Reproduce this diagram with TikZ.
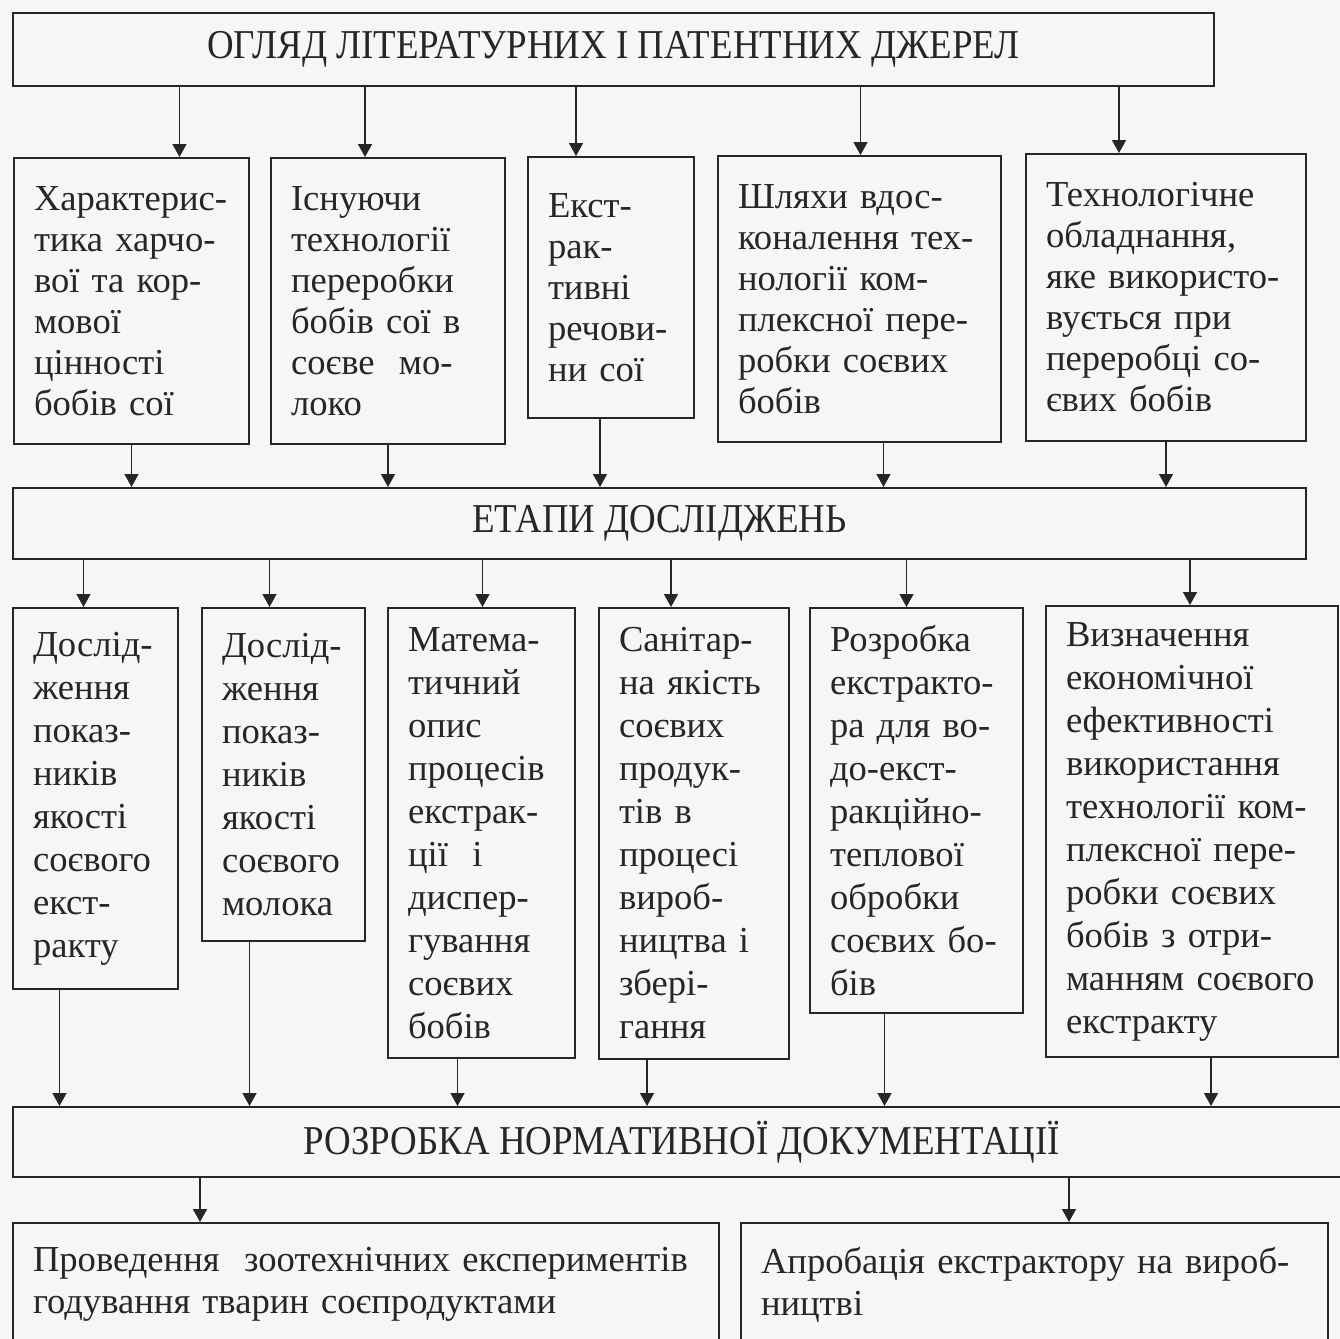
\documentclass[tikz,border=0pt]{standalone}
\usepackage{fontspec}
\setmainfont{Liberation Serif}
\newfontfamily\headfont[FakeStretch=0.9]{Liberation Serif}
\usetikzlibrary{positioning,arrows.meta}

\tikzset{
  headbox/.style={draw=black!85, line width=1pt, anchor=north west, inner sep=0pt,
    text=black!85, font=\headfont\fontsize{20.5}{24}\selectfont},
  stagebox/.style={draw=black!85, line width=1pt, anchor=north west, align=left,
    inner xsep=10pt, inner ysep=0pt, text=black!85, font=\fontsize{18.3}{#1}\selectfont},
  stagebox/.default=20.5,
  arr/.style={draw=black!85, line width=0.7pt, -{Triangle[length=6.5pt,width=7pt]}}
}

\begin{document}
\begin{tikzpicture}[x=0.5pt, y=-0.5pt]

% Page, in pixels of the scan (1340 x 1339)
\fill[gray!7] (0,0) rectangle (1340,1339);
\useasboundingbox (0,0) rectangle (1340,1339);

% Header: sources
\node[headbox, minimum width=600.5pt, minimum height=36.5pt] (ogl) at (12,12)
  {ОГЛЯД ЛІТЕРАТУРНИХ І ПАТЕНТНИХ ДЖЕРЕЛ};

% Row 2: what was reviewed
\node[stagebox, text width=97.5pt, minimum height=143pt] (lit1) at (13,157)
  {Характерис-\\тика~харчо-\\вої~та~кор-\\мової\\цінності\\бобів~сої};
\node[stagebox, text width=97pt, minimum height=143pt] (lit2) at (270,157)
  {Існуючи\\технології\\переробки\\бобів~сої~в\\соєве~~мо-\\локо};
\node[stagebox, text width=63pt, minimum height=130.5pt] (lit3) at (527,156)
  {Екст-\\рак-\\тивні\\речови-\\ни~сої};
\node[stagebox, text width=121.5pt, minimum height=143pt] (lit4) at (717,155)
  {Шляхи~вдос-\\коналення~тех-\\нології~ком-\\плексної~пере-\\робки~соєвих\\бобів};
\node[stagebox, text width=120pt, minimum height=143.5pt] (lit5) at (1025,153)
  {Технологічне\\обладнання,\\яке~використо-\\вується~при\\переробці~со-\\євих~бобів};

% Header: stages
\node[headbox, minimum width=646.5pt, minimum height=35.5pt] (stages) at (12,487)
  {ЕТАПИ ДОСЛІДЖЕНЬ};

% Row 3: research tasks
\node[stagebox=21.5, text width=62.5pt, minimum height=190.5pt] (task1) at (12,607)
  {Дослід-\\ження\\показ-\\ників\\якості\\соєвого\\екст-\\ракту};
\node[stagebox=21.5, text width=61.5pt, minimum height=166.5pt] (task2) at (201,607)
  {Дослід-\\ження\\показ-\\ників\\якості\\соєвого\\молока};
\node[stagebox=21.5, text width=73.5pt, minimum height=225pt] (task3) at (387,607)
  {Матема-\\тичний\\опис\\процесів\\екстрак-\\ції~~і\\диспер-\\гування\\соєвих\\бобів};
\node[stagebox=21.5, text width=75pt, minimum height=225.5pt] (task4) at (598,607)
  {Санітар-\\на~якість\\соєвих\\продук-\\тів~в\\процесі\\вироб-\\ництва~і\\збері-\\гання};
\node[stagebox=21.5, text width=86.5pt, minimum height=202.5pt] (task5) at (809,607)
  {Розробка\\екстракто-\\ра~для~во-\\до-екст-\\ракційно-\\теплової\\обробки\\соєвих~бо-\\бів};
\node[stagebox=21.5, text width=126pt, minimum height=225.5pt] (task6) at (1045,605)
  {Визначення\\економічної\\ефективності\\використання\\технології~ком-\\плексної~пере-\\робки~соєвих\\бобів~з~отри-\\манням~соєвого\\екстракту};

% Header: documentation (runs off the right edge)
\node[headbox, minimum width=669pt, minimum height=35pt] (norm) at (12,1106)
  {РОЗРОБКА НОРМАТИВНОЇ ДОКУМЕНТАЦІЇ};

% Bottom row (runs off the bottom edge)
\node[stagebox=21, text width=333pt, minimum height=61.5pt] (zoo) at (12,1222)
  {Проведення~~зоотехнічних~експериментів\\годування~тварин~соєпродуктами};
\node[stagebox=21, text width=273.5pt, minimum height=61.5pt] (test) at (740,1222)
  {Апробація~екстрактору~на~вироб-\\ництві};

% Arrows: sources -> row 2
\foreach \b/\dx in {lit1/24pt, lit2/-11.5pt, lit3/-17.5pt, lit4/0.5pt, lit5/-23.5pt}
  \draw[arr] ([xshift=\dx]\b.north |- ogl.south) -- ([xshift=\dx]\b.north);

% Arrows: row 2 -> stages
\foreach \b/\dx in {lit1/0pt, lit2/0pt, lit3/-5.5pt, lit4/12pt, lit5/0pt}
  \draw[arr] ([xshift=\dx]\b.south) -- ([xshift=\dx]\b.south |- stages.north);

% Arrows: stages -> row 3
\foreach \b/\dx in {task1/-6pt, task2/-7pt, task3/0.5pt, task4/-11.5pt, task5/-5pt, task6/-1pt}
  \draw[arr] ([xshift=\dx]\b.north |- stages.south) -- ([xshift=\dx]\b.north);

% Arrows: row 3 -> documentation
\foreach \b/\dx in {task1/-18pt, task2/-17pt, task3/-12pt, task4/-23.5pt, task5/-16pt, task6/9.5pt}
  \draw[arr] ([xshift=\dx]\b.south) -- ([xshift=\dx]\b.south |- norm.north);

% Arrows: documentation -> bottom row
\foreach \b/\dx in {zoo/-83pt, test/17.25pt}
  \draw[arr] ([xshift=\dx]\b.north |- norm.south) -- ([xshift=\dx]\b.north);

\end{tikzpicture}
\end{document}
